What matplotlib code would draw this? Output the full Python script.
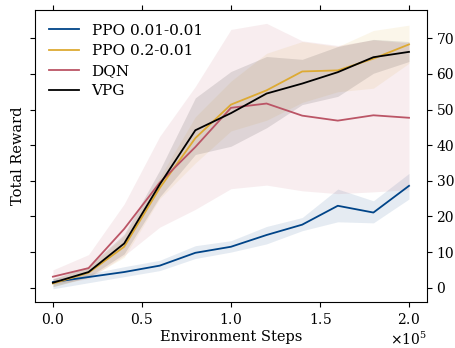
import numpy as np
import matplotlib
matplotlib.use("Agg")
import matplotlib.pyplot as plt

plt.rcParams['font.family'] = 'DejaVu Serif'

steps = np.array([0.0, 0.2, 0.4, 0.6, 0.8, 1.0, 1.2, 1.4, 1.6, 1.8, 2.0]) * 1e5

ppo_small_mean = [1.6, 3.0, 4.4, 6.2, 9.8, 11.5, 14.8, 17.7, 23.0, 21.1, 28.6]
ppo_small_lo = [-0.3, 1.4, 3.1, 4.8, 8.2, 10.0, 12.3, 16.0, 18.5, 18.2, 24.9]
ppo_small_hi = [2.6, 3.9, 5.9, 7.7, 11.8, 13.2, 17.2, 19.7, 27.7, 24.4, 32.1]

ppo_big_mean = [1.2, 4.2, 11.5, 28.0, 42.0, 51.4, 55.4, 60.7, 61.0, 64.3, 68.3]
ppo_big_lo = [0.3, 2.8, 8.5, 25.0, 35.0, 44.0, 47.0, 52.0, 55.0, 56.0, 63.0]
ppo_big_hi = [2.4, 5.8, 14.5, 31.0, 48.0, 58.0, 65.8, 69.1, 67.7, 72.2, 73.7]

dqn_mean = [3.1, 5.5, 16.5, 29.5, 39.5, 50.5, 51.7, 48.3, 46.9, 48.4, 47.7]
dqn_lo = [1.0, 2.5, 9.0, 17.0, 22.0, 27.8, 28.8, 27.2, 26.4, 26.9, 27.5]
dqn_hi = [5.0, 9.3, 23.5, 42.5, 56.5, 72.5, 74.2, 69.3, 68.0, 69.6, 68.7]

vpg_mean = [1.4, 4.4, 12.4, 29.0, 44.2, 49.0, 54.5, 57.3, 60.5, 64.7, 66.2]
vpg_lo = [0.3, 3.0, 9.5, 25.5, 37.4, 39.7, 44.9, 51.4, 53.7, 60.2, 63.5]
vpg_hi = [2.5, 6.0, 15.0, 33.0, 53.3, 60.7, 64.9, 64.1, 67.7, 69.7, 69.1]

xticks = [0.0, 0.5e5, 1.0e5, 1.5e5, 2.0e5]
yticks = [0, 10, 20, 30, 40, 50, 60, 70]

series = [
    ("PPO 0.01-0.01", "#004488", ppo_small_mean, ppo_small_lo, ppo_small_hi),
    ("PPO 0.2-0.01", "#DDAA33", ppo_big_mean, ppo_big_lo, ppo_big_hi),
    ("DQN", "#BB5566", dqn_mean, dqn_lo, dqn_hi),
    ("VPG", "#000000", vpg_mean, vpg_lo, vpg_hi),
]

fig = plt.figure(figsize=(4.56, 3.48), dpi=100)
ax = fig.add_axes([0.077, 0.132, 0.859, 0.839])

for name, col, m, lo, hi in series:
    ax.fill_between(steps, lo, hi, color=col, alpha=0.1, linewidth=0)
    ax.plot(steps, m, color=col, linewidth=1.3, label=name)

ax.set_xticks(xticks)
ax.set_yticks(yticks)
ax.tick_params(axis='y', left=True, right=True, labelleft=False, labelright=True,
               direction='out', labelsize=10)
ax.tick_params(axis='x', top=True, bottom=True, direction='out', labelsize=10)
ax.ticklabel_format(axis='x', style='sci', scilimits=(0, 0), useMathText=True)
ax.xaxis.get_offset_text().set_fontsize(10)

ax.set_xlabel("Environment Steps", fontsize=10.5, labelpad=2)
ax.set_ylabel("Total Reward", fontsize=10.5)

ax.legend(loc='upper left', frameon=False, fontsize=11, labelspacing=0.4,
          borderaxespad=0.5)

fig.savefig("out.png", dpi=100)
